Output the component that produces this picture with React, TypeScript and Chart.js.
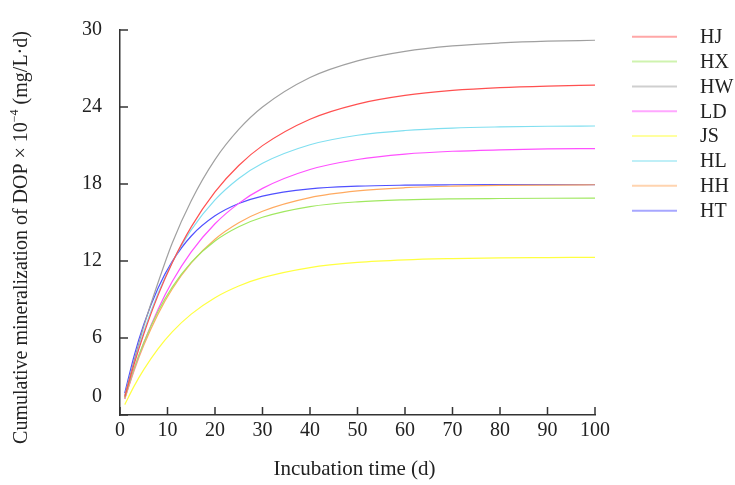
import React, { useEffect, useRef } from 'react';
import { Chart, registerables } from 'chart.js';

Chart.register(...registerables);

const days = [1, 3, 5, 8, 11, 15, 20, 25, 30, 40, 50, 60, 70, 80, 90, 100];
const seriesNames = ['HJ', 'HX', 'HW', 'LD', 'JS', 'HL', 'HH', 'HT'];
const HJ = [1.41, 3.99, 6.3, 9.32, 11.87, 14.66, 17.38, 19.44, 20.99, 23.05, 24.23, 24.9, 25.29, 25.51, 25.63, 25.7];
const HX = [1.31, 3.65, 5.63, 8.06, 9.97, 11.89, 13.56, 14.67, 15.41, 16.24, 16.61, 16.77, 16.84, 16.87, 16.89, 16.9];
const HW = [1.5, 4.3, 6.9, 10.3, 13.4, 16.7, 19.9, 22.25, 24.0, 26.3, 27.6, 28.34, 28.76, 28.99, 29.13, 29.2];
const LD = [1.27, 3.58, 5.62, 8.23, 10.4, 12.71, 14.9, 16.49, 17.66, 19.13, 19.91, 20.33, 20.55, 20.66, 20.73, 20.76];
const JS = [0.81, 2.27, 3.54, 5.16, 6.48, 7.86, 9.14, 10.05, 10.7, 11.49, 11.89, 12.09, 12.19, 12.25, 12.27, 12.29];
const HL = [1.48, 4.16, 6.5, 9.46, 11.88, 14.42, 16.76, 18.43, 19.62, 21.06, 21.8, 22.17, 22.36, 22.45, 22.5, 22.52];
const HH = [1.25, 3.49, 5.43, 7.86, 9.82, 11.85, 13.7, 14.98, 15.88, 16.94, 17.46, 17.71, 17.83, 17.89, 17.92, 17.94];
const HT = [1.71, 4.65, 7.06, 9.88, 11.97, 13.95, 15.52, 16.48, 17.06, 17.62, 17.83, 17.91, 17.94, 17.95, 17.95, 17.95];
const seriesValues = [HJ, HX, HW, LD, JS, HL, HH, HT];
const seriesColors = ['#ff5050', '#a0e860', '#a0a0a0', '#ff50ff', '#ffff40', '#80dff0', '#ffaa60', '#5050ff'];

const xTitle = 'Incubation time (d)';
const yTitleMain = 'Cumulative mineralization of DOP × 10';
const yTitleSup = '−4';
const yTitleEnd = ' (mg/L·d)';

const FONT = '"Liberation Serif", "Times New Roman", serif';
const AXIS_COLOR = '#333333';
const TEXT_COLOR = '#222222';

const decorPlugin = {
  id: 'decor',
  afterDraw(chart: any) {
    const { ctx, chartArea } = chart;
    const xs = chart.scales.x;
    const ys = chart.scales.y;
    ctx.save();
    ctx.strokeStyle = AXIS_COLOR;
    ctx.lineWidth = 1.5;
    // inward ticks
    xs.ticks.forEach((t: any) => {
      const px = xs.getPixelForValue(t.value);
      ctx.beginPath();
      ctx.moveTo(px, chartArea.bottom);
      ctx.lineTo(px, chartArea.bottom - 8);
      ctx.stroke();
    });
    ys.ticks.forEach((t: any) => {
      const py = ys.getPixelForValue(t.value);
      ctx.beginPath();
      ctx.moveTo(chartArea.left, py);
      ctx.lineTo(chartArea.left + 8, py);
      ctx.stroke();
    });
    // zero label on y, lifted
    ctx.fillStyle = TEXT_COLOR;
    ctx.font = `20px ${FONT}`;
    ctx.textAlign = 'right';
    ctx.textBaseline = 'middle';
    ctx.fillText('0', chartArea.left - 18, ys.getPixelForValue(0) - 18);

    // x title
    ctx.font = `21px ${FONT}`;
    ctx.textAlign = 'center';
    ctx.textBaseline = 'middle';
    ctx.fillText(xTitle, (chartArea.left + chartArea.right) / 2 - 3, 469);

    // y title with superscript
    ctx.save();
    ctx.translate(22, 237.5);
    ctx.rotate(-Math.PI / 2);
    ctx.textAlign = 'left';
    ctx.textBaseline = 'middle';
    const mainFont = `20px ${FONT}`;
    const supFont = `12px ${FONT}`;
    ctx.font = mainFont;
    const w1 = ctx.measureText(yTitleMain).width;
    const w3 = ctx.measureText(yTitleEnd).width;
    ctx.font = supFont;
    const w2 = ctx.measureText(yTitleSup).width;
    const total = w1 + w2 + w3;
    let cx = -total / 2;
    ctx.font = mainFont;
    ctx.fillText(yTitleMain, cx, 0);
    cx += w1;
    ctx.font = supFont;
    ctx.fillText(yTitleSup, cx, -7);
    cx += w2;
    ctx.font = mainFont;
    ctx.fillText(yTitleEnd, cx, 0);
    ctx.restore();

    // legend
    ctx.font = `20px ${FONT}`;
    ctx.textAlign = 'left';
    ctx.textBaseline = 'middle';
    seriesNames.forEach((name, i) => {
      const yy = 36.7 + i * 24.85;
      ctx.save();
      ctx.globalAlpha = 0.5;
      ctx.strokeStyle = seriesColors[i];
      ctx.lineWidth = 2;
      ctx.beginPath();
      ctx.moveTo(632, yy);
      ctx.lineTo(677, yy);
      ctx.stroke();
      ctx.restore();
      ctx.fillStyle = TEXT_COLOR;
      ctx.fillText(name, 700, yy + 1);
    });
    ctx.restore();
  },
};

export default function App() {
  const canvasRef = useRef<HTMLCanvasElement | null>(null);

  useEffect(() => {
    document.body.style.margin = '0';
    const canvas = canvasRef.current;
    if (!canvas) return;
    const chart = new Chart(canvas, {
      type: 'line',
      data: {
        datasets: seriesNames.map((name, i) => ({
          label: name,
          data: days.map((d, j) => ({ x: d, y: seriesValues[i][j] })),
          borderColor: seriesColors[i],
          backgroundColor: seriesColors[i],
          borderWidth: 1.2,
          pointRadius: 0,
          fill: false,
          cubicInterpolationMode: 'monotone' as const,
        })),
      },
      options: {
        animation: false,
        responsive: true,
        maintainAspectRatio: false,
        layout: { padding: { left: 0, right: 140, top: 27, bottom: 0 } },
        plugins: {
          legend: { display: false },
          tooltip: { enabled: false },
          title: { display: false },
        },
        scales: {
          x: {
            type: 'linear',
            min: 0,
            max: 100,
            ticks: {
              stepSize: 10,
              color: TEXT_COLOR,
              font: { family: FONT, size: 20 },
              padding: 4,
              maxRotation: 0,
            },
            grid: { display: true, drawOnChartArea: false, drawTicks: false, color: 'rgba(0,0,0,0)' },
            border: { display: true, color: AXIS_COLOR, width: 1.5 },
            afterFit: (s: any) => {
              s.height = 70;
            },
          },
          y: {
            type: 'linear',
            min: 0,
            max: 30,
            ticks: {
              stepSize: 6,
              color: TEXT_COLOR,
              font: { family: FONT, size: 20 },
              padding: 18,
              callback: (v: any) => (Number(v) === 0 ? '' : String(v)),
            },
            grid: { display: true, drawOnChartArea: false, drawTicks: false, color: 'rgba(0,0,0,0)' },
            border: { display: true, color: AXIS_COLOR, width: 1.5 },
            afterFit: (s: any) => {
              s.width = 120;
            },
          },
        },
      },
      plugins: [decorPlugin],
    });
    return () => chart.destroy();
  }, []);

  return (
    <div style={{ width: 735, height: 485, position: 'relative' }}>
      <canvas ref={canvasRef} />
    </div>
  );
}
